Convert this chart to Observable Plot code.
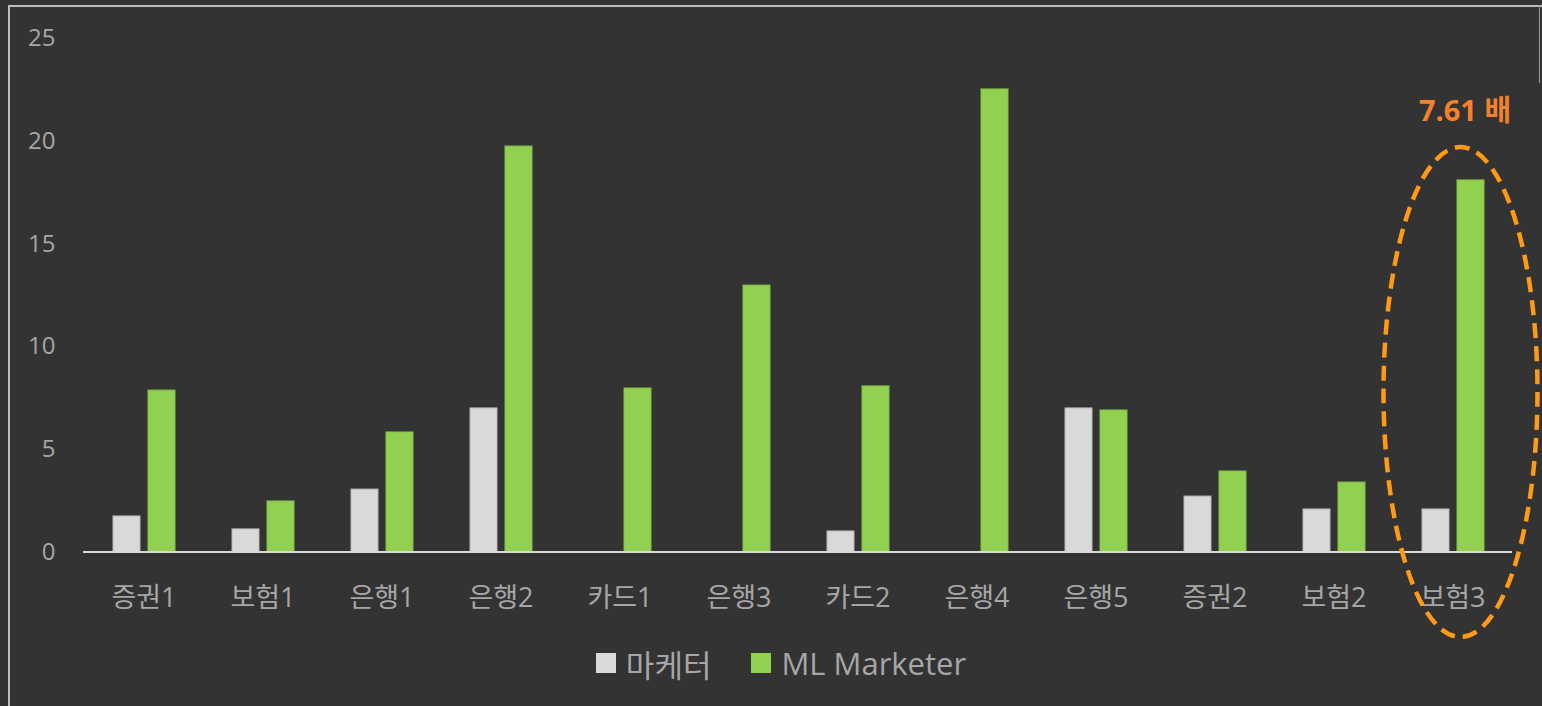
<!DOCTYPE html>
<html>
<head>
<meta charset="utf-8">
<script src="https://cdn.jsdelivr.net/npm/d3@7"></script>
<script src="https://cdn.jsdelivr.net/npm/@observablehq/plot@0.6"></script>
<style>
  html, body { margin: 0; padding: 0; background: #333333; }
  #wrap { position: relative; width: 1542px; height: 706px; overflow: hidden; background: #333333;
          font-family: "Open Sans", "Noto Sans CJK KR", sans-serif; }
  #frame { position: absolute; left: 8px; top: 5px; width: 1540px; height: 760px;
           border-left: 2px solid #bdbdbd; border-top: 2px solid #bdbdbd; box-sizing: border-box; }
  #frameR { position: absolute; left: 1539px; top: 5px; width: 1px; height: 78px; background: #9a9a9a; }
  #chart { position: absolute; left: 0; top: 0; }
  #chart svg { overflow: visible; }
  #legend { position: absolute; left: 0; top: 643px; width: 1542px; height: 40px; box-sizing: border-box; padding-left: 20px;
            display: flex; justify-content: center; align-items: center; gap: 0;
            font-family: "Open Sans", "Noto Sans CJK KR", sans-serif; font-size: 31px; color: #a6a6a6; }
  .item { display: flex; align-items: center; margin: 0 20px; }
  .sw { width: 20px; height: 20px; margin-right: 10px; }
</style>
</head>
<body>
<div id="wrap">
  <div id="frame"></div>
  <div id="frameR"></div>
  <div id="chart"></div>
  <div id="legend"></div>
</div>
<script>
const categories = ["증권1","보험1","은행1","은행2","카드1","은행3","카드2","은행4","은행5","증권2","보험2","보험3"];
const seriesNames = ["마케터", "ML Marketer"];
const marketer   = [1.73, 1.10, 3.04, 6.99, 0, 0, 1.00, 0, 6.99, 2.70, 2.07, 2.07];
const mlMarketer = [7.86, 2.46, 5.82, 19.74, 7.96, 12.97, 8.06, 22.52, 6.89, 3.92, 3.38, 18.09];
const yTicks = [0, 5, 10, 15, 20, 25];
const highlightCat = "보험3";
const highlightLabel = "7.61 배";
const ellipseRange = [-4.16, 19.69]; // y-extent of the highlight ellipse in data units

const colors = { "마케터": "#d9d9d9", "ML Marketer": "#92d050" };

const rows = categories.map((c, i) => ({ cat: c, m: marketer[i], ml: mlMarketer[i] }));

const ellipseMark = (index, scales, values, dims) => {
  const xs = scales.x, ys = scales.y;
  const bw = xs.bandwidth ? xs.bandwidth() : 119;
  const cx = xs(highlightCat) + bw / 2 + 8;
  const y1 = ys(ellipseRange[1]), y0 = ys(ellipseRange[0]);
  const el = d3.create("svg:ellipse")
    .attr("cx", cx).attr("cy", (y0 + y1) / 2)
    .attr("rx", bw * 0.647).attr("ry", Math.abs(y0 - y1) / 2)
    .attr("fill", "none").attr("stroke", "#ff9a16")
    .attr("stroke-width", 4.5).attr("stroke-dasharray", "15 8");
  return el.node();
};

const plot = Plot.plot({
  width: 1542,
  height: 625,
  marginLeft: 83,
  marginRight: 30,
  marginTop: 38,
  marginBottom: 73.5,
  style: { background: "transparent", fontFamily: "'Open Sans', 'Noto Sans CJK KR', sans-serif", fontSize: "24px", color: "#a6a6a6" },
  x: { domain: categories, padding: 0, label: null, tickSize: 0, tickPadding: 36 },
  y: { domain: [0, 25], ticks: yTicks, label: null, tickSize: 0, tickPadding: 28 },
  marks: [
    Plot.barY(rows, { x: "cat", y: "m", fill: colors["마케터"], stroke: "#b8b8b8", strokeWidth: 1, insetLeft: 29, insetRight: 63 }),
    Plot.barY(rows, { x: "cat", y: "ml", fill: colors["ML Marketer"], stroke: "#84bf48", strokeWidth: 1, insetLeft: 64, insetRight: 28 }),
    Plot.ruleY([0], { stroke: "#d9d9d9", strokeWidth: 2 }),
    Plot.axisX({ tickSize: 0, tickPadding: 36, fill: "#a6a6a6", fontSize: 27 }),
    Plot.axisY({ ticks: yTicks, tickSize: 0, tickPadding: 28, fill: "#a6a6a6", fontSize: 24 }),
    ellipseMark,
    Plot.text([highlightLabel], { x: () => highlightCat, y: () => 21.45, text: d => d, dx: 12, fill: "#f5822a", fontSize: 29, fontWeight: "bold" })
  ]
});
document.getElementById("chart").appendChild(plot);

const legend = document.getElementById("legend");
seriesNames.forEach(n => {
  const it = document.createElement("div"); it.className = "item";
  const sw = document.createElement("div"); sw.className = "sw"; sw.style.background = colors[n];
  const t = document.createElement("span"); t.textContent = n;
  it.appendChild(sw); it.appendChild(t); legend.appendChild(it);
});
</script>
</body>
</html>
